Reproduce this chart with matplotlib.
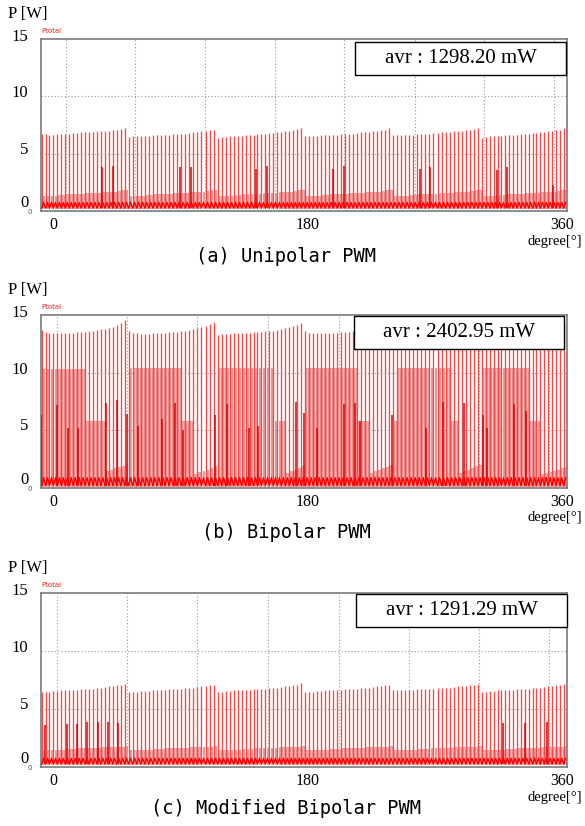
import numpy as np
import matplotlib.pyplot as plt
from matplotlib.patches import Rectangle
import matplotlib.transforms as mtransforms

W, H = 585, 826

# switching periods: 6 sectors of 22 pulses each, x in degrees
seg_edges = [-8.5, 53.0, 116.0, 178.0, 240.0, 303.0, 363.5]
per_seg = 22

# tall spike peaks [W]
a_peak = [
    [6.7, 6.7, 6.65, 6.65, 6.7, 6.7, 6.75, 6.75, 6.8, 6.8, 6.85, 6.85, 6.9, 6.9, 6.95, 6.95, 7.0, 7.0, 7.05, 7.1, 7.15, 7.25],
    [6.45, 6.5, 6.5, 6.5, 6.55, 6.55, 6.6, 6.6, 6.6, 6.65, 6.65, 6.7, 6.7, 6.75, 6.75, 6.8, 6.85, 6.9, 6.95, 7.0, 7.05, 7.1],
    [6.4, 6.45, 6.45, 6.5, 6.5, 6.55, 6.55, 6.6, 6.6, 6.65, 6.7, 6.7, 6.75, 6.8, 6.8, 6.85, 6.9, 6.95, 7.0, 7.1, 7.15, 7.25],
    [6.5, 6.5, 6.55, 6.55, 6.6, 6.6, 6.6, 6.65, 6.65, 6.7, 6.7, 6.75, 6.75, 6.8, 6.85, 6.9, 6.9, 6.95, 7.0, 7.05, 7.1, 7.2],
    [6.65, 6.6, 6.6, 6.6, 6.65, 6.65, 6.7, 6.7, 6.75, 6.75, 6.8, 6.8, 6.85, 6.85, 6.9, 6.95, 6.95, 7.0, 7.05, 7.1, 7.15, 7.2],
    [6.4, 6.45, 6.5, 6.5, 6.55, 6.55, 6.6, 6.6, 6.65, 6.65, 6.7, 6.7, 6.75, 6.8, 6.8, 6.85, 6.9, 6.95, 7.0, 7.05, 7.1, 7.2],
]
b_peak = [
    [13.7, 13.5, 13.45, 13.4, 13.4, 13.4, 13.4, 13.45, 13.45, 13.5, 13.5, 13.55, 13.6, 13.65, 13.7, 13.75, 13.8, 13.9, 14.0, 14.1, 14.3, 14.6],
    [13.6, 13.45, 13.4, 13.35, 13.35, 13.35, 13.4, 13.4, 13.45, 13.45, 13.5, 13.5, 13.55, 13.6, 13.65, 13.7, 13.75, 13.85, 13.95, 14.05, 14.2, 14.4],
    [13.3, 13.35, 13.35, 13.35, 13.4, 13.4, 13.4, 13.45, 13.45, 13.5, 13.5, 13.55, 13.6, 13.6, 13.65, 13.7, 13.8, 13.85, 13.95, 14.05, 14.15, 14.3],
    [13.65, 13.45, 13.4, 13.4, 13.4, 13.4, 13.4, 13.45, 13.45, 13.5, 13.5, 13.55, 13.6, 13.65, 13.7, 13.75, 13.8, 13.9, 14.0, 14.1, 14.2, 14.4],
    [13.5, 13.4, 13.4, 13.35, 13.35, 13.4, 13.4, 13.45, 13.45, 13.5, 13.5, 13.55, 13.6, 13.65, 13.7, 13.75, 13.8, 13.9, 14.0, 14.1, 14.2, 14.4],
    [13.6, 13.45, 13.4, 13.4, 13.4, 13.4, 13.45, 13.45, 13.5, 13.5, 13.55, 13.6, 13.6, 13.65, 13.7, 13.75, 13.8, 13.85, 13.95, 14.05, 14.15, 14.3],
]
c_peak = [
    [6.5, 6.5, 6.5, 6.55, 6.55, 6.6, 6.6, 6.6, 6.65, 6.65, 6.7, 6.7, 6.75, 6.75, 6.8, 6.85, 6.9, 6.95, 7.0, 7.05, 7.1, 7.15],
    [6.5, 6.5, 6.5, 6.55, 6.55, 6.55, 6.6, 6.6, 6.65, 6.65, 6.7, 6.7, 6.7, 6.75, 6.8, 6.8, 6.85, 6.9, 6.95, 7.0, 7.05, 7.07],
    [6.5, 6.5, 6.55, 6.55, 6.6, 6.6, 6.6, 6.65, 6.65, 6.7, 6.7, 6.75, 6.75, 6.8, 6.85, 6.85, 6.9, 6.95, 7.0, 7.05, 7.1, 7.2],
    [6.5, 6.5, 6.5, 6.55, 6.55, 6.6, 6.6, 6.6, 6.65, 6.65, 6.7, 6.7, 6.75, 6.75, 6.8, 6.8, 6.85, 6.9, 6.95, 7.0, 7.05, 7.1],
    [6.6, 6.6, 6.6, 6.6, 6.65, 6.65, 6.7, 6.7, 6.7, 6.75, 6.75, 6.8, 6.8, 6.85, 6.85, 6.9, 6.95, 6.95, 7.0, 7.05, 7.1, 7.15],
    [6.5, 6.5, 6.55, 6.55, 6.6, 6.6, 6.6, 6.65, 6.65, 6.7, 6.7, 6.75, 6.75, 6.8, 6.85, 6.85, 6.9, 6.95, 7.0, 7.05, 7.1, 7.15],
]

# secondary (pink) pulse levels between the tall spikes
a_low = [1.3, 1.3, 1.35, 1.35, 1.4, 1.4, 1.45, 1.45, 1.5, 1.5, 1.5, 1.55, 1.55, 1.6, 1.6, 1.65, 1.65, 1.7, 1.7, 1.75, 1.8, 1.85]
c_low = [1.45, 1.45, 1.45, 1.5, 1.5, 1.5, 1.55, 1.55, 1.55, 1.6, 1.6, 1.6, 1.65, 1.65, 1.65, 1.7, 1.7, 1.7, 1.75, 1.75, 1.75, 1.8]
b_mid = [
    [10.3] * 11 + [5.8] * 5 + [1.5, 1.6, 1.7, 1.8, 1.9, 2.0],
    [10.4] * 13 + [5.8] * 3 + [1.2, 1.35, 1.5, 1.6, 1.75, 1.9],
    [10.4] * 14 + [5.8] * 3 + [1.3, 1.45, 1.6, 1.75, 1.9],
    [10.4] * 13 + [5.8] * 3 + [1.3, 1.45, 1.6, 1.75, 1.85, 2.0],
    [5.8] + [10.4] * 13 + [5.8] * 2 + [1.3, 1.45, 1.6, 1.75, 1.9, 2.0],
    [10.4] * 12 + [5.8] * 3 + [1.2, 1.3, 1.4, 1.5, 1.6, 1.7, 1.8],
]

# darker medium spikes (x in degrees, height in W)
a_dark_x = [34.6, 42.4, 89.8, 97.6, 143.5, 151.3, 198.0, 205.8, 259.5, 266.6, 314.0, 321.0, 353.6]
a_dark_y = [3.85, 3.9, 3.8, 3.85, 3.7, 3.9, 3.7, 3.9, 3.7, 3.8, 3.6, 3.8, 2.3]
b_dark_x = [-8.2, 2.8, 10.6, 17.7, 37.5, 45.2, 52.3, 60.1, 77.1, 86.3, 91.9, 114.6, 123.0, 138.6, 145.0,
            171.8, 177.5, 186.7, 205.8, 213.6, 217.1, 239.7, 263.8, 275.8, 290.6, 304.1, 306.9, 326.0, 334.5]
b_dark_y = [6.3, 7.2, 5.2, 5.2, 7.4, 7.6, 6.4, 5.4, 6.0, 7.4, 5.0, 6.3, 7.3, 5.2, 5.4,
            7.5, 6.5, 5.2, 7.3, 7.4, 5.8, 6.3, 5.2, 7.5, 7.4, 6.3, 5.2, 7.3, 6.7]
c_dark_x = [-5.7, 9.9, 17.0, 24.0, 31.8, 38.9, 45.9, 318.2, 333.8, 349.3]
c_dark_y = [3.6, 3.7, 3.7, 3.85, 3.85, 3.9, 3.8, 3.8, 3.8, 3.9]

# baseline ripple (low, high)
ripple = {"a": (0.25, 0.75), "b": (0.2, 0.9), "c": (0.25, 0.75)}

grid_a = [9.2, 58.0, 107.5, 157.0, 205.8, 256.0, 304.8, 354.3]
grid_bc = [2.8, 52.3, 102.0, 152.0, 202.2, 251.8, 301.3, 350.8]

avr_labels = ["avr : 1298.20 mW", "avr : 2402.95 mW", "avr : 1291.29 mW"]
captions = ["(a) Unipolar PWM", "(b) Bipolar PWM", "(c) Modified Bipolar PWM"]

# layout in pixels (left, top, right, bottom)
boxes = [(41, 39, 567, 211), (41, 315, 567, 488), (41, 593, 567, 767)]
avr_boxes = [(355, 42, 566, 75), (354, 316, 564, 349), (356, 594, 567, 627)]
caption_y = [256, 533, 808]

fig = plt.figure(figsize=(W / 100, H / 100), dpi=100)


def pulse_x():
    xs = []
    for k in range(6):
        s, e = seg_edges[k], seg_edges[k + 1]
        d = (e - s) / per_seg
        xs.extend(s + (np.arange(per_seg) + 0.15) * d)
    return np.array(xs)


def draw(ax, peaks, mids, dark_x, dark_y, grid_x, rip):
    xs = pulse_x()
    d = np.diff(seg_edges).mean() / per_seg
    lo, hi = rip
    pk = np.concatenate(peaks)
    md = np.asarray(mids)

    for gx in grid_x:
        ax.axvline(gx, color="#9a9a9a", lw=0.8, ls=(0, (1, 2)), zorder=0)
    for gy in [5, 10]:
        ax.axhline(gy, color="#9a9a9a", lw=0.8, ls=(0, (1, 2)), zorder=0)

    ax.bar(xs + 0.5 * d, md - lo, width=0.45 * d, bottom=lo, color="#f7bcbc",
           edgecolor="#ef7878", linewidth=0.5, zorder=1)
    ax.vlines(xs, lo, pk, color="#ec4c4c", lw=0.95, zorder=2)
    ax.vlines(dark_x, lo, dark_y, color="#e00000", lw=1.1, zorder=3)

    rx = np.ravel(np.column_stack([xs, xs + 0.5 * d]))
    ry = np.ravel(np.column_stack([np.full(len(xs), lo), np.full(len(xs), hi)]))
    ax.plot(rx, ry, color="#ff0000", lw=1.0, zorder=4)


panels = [
    (a_peak, [a_low] * 6, a_dark_x, a_dark_y, grid_a, ripple["a"]),
    (b_peak, b_mid, b_dark_x, b_dark_y, grid_bc, ripple["b"]),
    (c_peak, [c_low] * 6, c_dark_x, c_dark_y, grid_bc, ripple["c"]),
]

for i, (peaks, mids, dx, dy, gx, rip) in enumerate(panels):
    l, t, r, b = boxes[i]
    ax = fig.add_axes([l / W, 1 - b / H, (r - l) / W, (b - t) / H])
    draw(ax, peaks, np.concatenate(mids), dx, dy, gx, rip)
    ax.set_xlim(seg_edges[0], seg_edges[-1])
    ax.set_ylim(0, 15)
    for sp in ax.spines.values():
        sp.set_color("#7a7a7a")
        sp.set_linewidth(1.2)

    ax.set_yticks([0, 5, 10, 15])
    ax.set_yticklabels(["0", "5", "10", "15"], family="Liberation Serif", fontsize=12)
    ax.set_xticks([0, 180, 360])
    ax.set_xticklabels(["0", "180", "360"], family="Liberation Serif", fontsize=11.5)
    ax.tick_params(length=0, pad=9)
    ax.tick_params(axis="x", pad=4)
    for lab, dy_px in zip(ax.get_yticklabels(), [10, 6, 5, 4]):
        lab.set_transform(lab.get_transform() + mtransforms.ScaledTranslation(0, dy_px / 100, fig.dpi_scale_trans))

    # avr box
    al, at, ar, ab = avr_boxes[i]
    fx0, fx1 = (al - l) / (r - l), (ar - l) / (r - l)
    fy0, fy1 = (b - ab) / (b - t), (b - at) / (b - t)
    ax.add_patch(Rectangle((fx0, fy0), fx1 - fx0, fy1 - fy0, transform=ax.transAxes,
                           facecolor="white", edgecolor="black", lw=1.0, zorder=10, clip_on=False))
    ax.text((fx0 + fx1) / 2, (fy0 + fy1) / 2, avr_labels[i], transform=ax.transAxes,
            ha="center", va="center", family="Liberation Serif", fontsize=15, zorder=11)

    # labels around the box
    fig.text(8 / W, 1 - (t - 25) / H, "P [W]", family="Liberation Serif", fontsize=12,
             ha="left", va="center")
    fig.text(l / W, 1 - (t - 8) / H, "Ptotal", color="#ee2222", fontsize=5,
             ha="left", va="center")
    fig.text(30 / W, 1 - (b + 1) / H, "0", color="#555555", fontsize=5, ha="center", va="center")
    fig.text(555 / W, 1 - (b + 30) / H, "degree[°]", family="Liberation Serif", fontsize=10.5,
             ha="center", va="center")
    fig.text(286 / W, 1 - caption_y[i] / H, captions[i], family="DejaVu Sans Mono",
             fontsize=13.5, ha="center", va="center")

fig.savefig("out.png", dpi=100)
